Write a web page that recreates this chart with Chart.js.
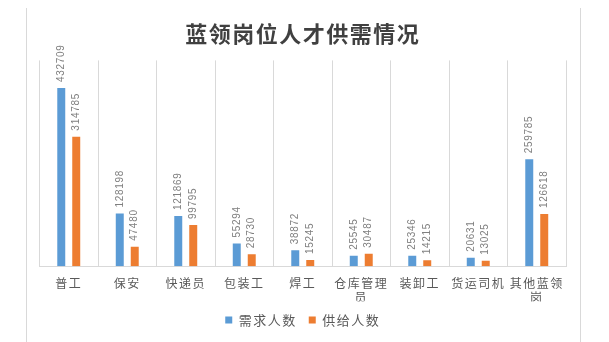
<!DOCTYPE html>
<html>
<head>
<meta charset="utf-8">
<script src="https://cdn.jsdelivr.net/npm/chart.js@4/dist/chart.umd.min.js"></script>
<style>
html,body{margin:0;padding:0;background:#fff;}
#wrap{position:relative;width:609px;height:342px;overflow:hidden;}
#frameL{position:absolute;left:26px;top:8px;width:1px;height:340px;background:#d9d9d9;}
#frameR{position:absolute;left:580px;top:8px;width:1px;height:340px;background:#d9d9d9;}
canvas{position:absolute;left:0;top:0;}
</style>
</head>
<body>
<div id="wrap">
<div id="frameL"></div><div id="frameR"></div>
<canvas id="c" width="609" height="342"></canvas>
</div>
<script>
const titleText = '蓝领岗位人才供需情况';
const categories = ['普工','保安','快递员','包装工','焊工','仓库管理员','装卸工','货运司机','其他蓝领岗'];
const seriesNames = ['需求人数','供给人数'];
const demand = [432709,128198,121869,55294,38872,25545,25346,20631,259785];
const supply = [314785,47480,99795,28730,15245,30487,14215,13025,126618];
const yMax = 500000;

const BLUE = '#5B9BD5', ORANGE = '#ED7D31';

const spacingPlugin = {
  id: 'spacing',
  beforeLayout(chart){ chart.ctx.letterSpacing = '1.5px'; },
  beforeDraw(chart){ chart.ctx.letterSpacing = '1.5px'; }
};

const valueLabels = {
  id: 'valueLabels',
  afterDatasetsDraw(chart){
    const ctx = chart.ctx;
    ctx.save();
    ctx.letterSpacing = '0.7px';
    ctx.font = '10px "Liberation Sans", Arial, sans-serif';
    ctx.fillStyle = '#7f7f7f';
    ctx.textAlign = 'left';
    ctx.textBaseline = 'middle';
    chart.data.datasets.forEach((ds, di) => {
      const meta = chart.getDatasetMeta(di);
      meta.data.forEach((bar, i) => {
        ctx.save();
        ctx.translate(bar.x, bar.y - 6);
        ctx.rotate(-Math.PI/2);
        ctx.fillText(String(ds.data[i]), 0, 0);
        ctx.restore();
      });
    });
    ctx.restore();
  }
};

function wrap(s){
  if (s.length <= 4) return s;
  const out = [];
  for (let i = 0; i < s.length; i += 4) out.push(s.slice(i, i+4));
  return out;
}

new Chart(document.getElementById('c'), {
  type: 'bar',
  data: {
    labels: categories,
    datasets: [
      {label: seriesNames[0], data: demand, backgroundColor: BLUE},
      {label: seriesNames[1], data: supply, backgroundColor: ORANGE}
    ]
  },
  options: {
    responsive: false,
    animation: false,
    events: [],
    layout: {padding: {left: 39.5, right: 43, top: 0, bottom: 5.5}},
    datasets: {bar: {categoryPercentage: 0.512, barPercentage: 0.533}},
    scales: {
      x: {
        grid: {display: true, offset: true, color: '#d9d9d9', drawTicks: false},
        border: {display: true, color: '#d9d9d9'},
        afterFit(scale){ scale.height -= 13.5; },
        ticks: {
          color: '#595959',
          padding: 10,
          maxRotation: 0,
          autoSkip: false,
          font: {family: '"Noto Sans CJK SC", sans-serif', size: 12},
          callback(v, i){ return wrap(categories[i]); }
        }
      },
      y: {display: false, min: 0, max: yMax}
    },
    plugins: {
      title: {
        display: true,
        text: titleText,
        color: '#404040',
        font: {family: '"Noto Sans CJK SC", sans-serif', size: 22, weight: 'bold'},
        padding: {top: 20, bottom: 14}
      },
      legend: {
        display: true,
        position: 'bottom',
        labels: {
          color: '#595959',
          boxWidth: 7,
          boxHeight: 7,
          padding: 12,
          font: {family: '"Noto Sans CJK SC", sans-serif', size: 13}
        }
      },
      tooltip: {enabled: false}
    }
  },
  plugins: [spacingPlugin, valueLabels]
});
</script>
</body>
</html>
